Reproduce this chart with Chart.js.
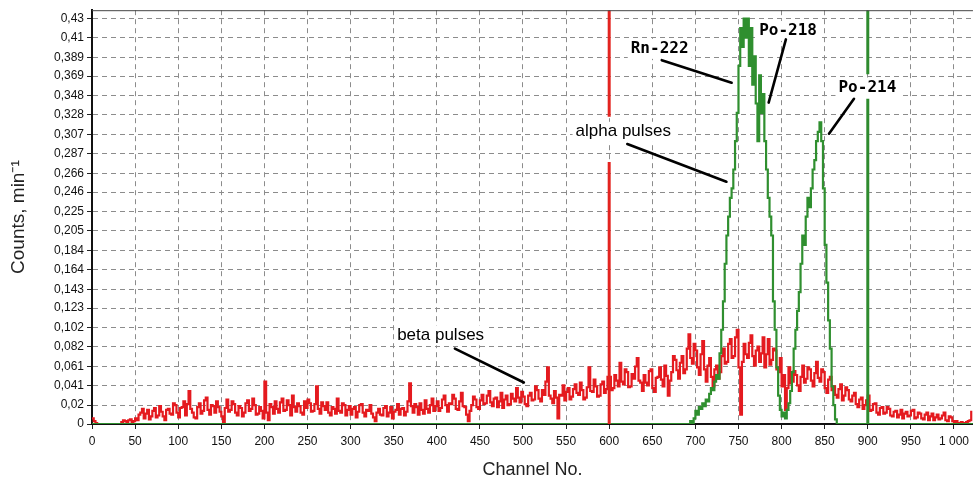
<!DOCTYPE html>
<html>
<head>
<meta charset="utf-8">
<script src="https://cdn.jsdelivr.net/npm/chart.js@4.4.0/dist/chart.umd.min.js"></script>
<style>
  html, body { margin: 0; padding: 0; background: #fff; }
  canvas { display: block; }
</style>
</head>
<body>
<canvas id="spectrumChart" width="974" height="485"></canvas>
<script>
  // Beta spectrum (red), one value every 2 channels starting at channel 0
  const betaStep = 2;
  const betaCounts = [
    0.006, 0.003, 0.001, 0, 0, 0, 0, 0, 0, 0, 0, 0, 0, 0, 0, 0, 0, 0.002, 0.004, 0.003,
    0.002, 0.004, 0.005, 0.002, 0.003, 0.006, 0.004, 0.010, 0.012, 0.016, 0.006, 0.011, 0.015, 0.005, 0.008, 0.014, 0.017, 0.007, 0.009, 0.019,
    0.013, 0.008, 0.004, 0.015, 0.016, 0.011, 0.010, 0.022, 0.020, 0.012, 0.007, 0.017, 0.018, 0.024, 0.009, 0.021, 0.035, 0.016, 0.012, 0.007,
    0.006, 0.018, 0.022, 0.011, 0.014, 0.025, 0.028, 0.015, 0.010, 0.020, 0.019, 0.012, 0.024, 0.018, 0.013, 0.008, 0.002, 0.017, 0.026, 0.013,
    0.015, 0.024, 0.021, 0.012, 0.009, 0.019, 0.017, 0.008, 0.012, 0.022, 0.025, 0.014, 0.016, 0.027, 0.020, 0.010, 0.011, 0.018, 0.014, 0.006,
    0.045, 0.012, 0.004, 0.021, 0.018, 0.011, 0.024, 0.016, 0.012, 0.023, 0.027, 0.014, 0.015, 0.025, 0.020, 0.009, 0.030, 0.018, 0.013, 0.022,
    0.019, 0.012, 0.010, 0.024, 0.017, 0.026, 0.022, 0.013, 0.014, 0.021, 0.040, 0.016, 0.011, 0.023, 0.019, 0.015, 0.023, 0.012, 0.009, 0.018,
    0.016, 0.011, 0.027, 0.014, 0.012, 0.022, 0.020, 0.009, 0.015, 0.019, 0.010, 0.016, 0.018, 0.007, 0.013, 0.020, 0.021, 0.012, 0.008, 0.015,
    0.014, 0.020, 0.011, 0.007, 0.003, 0.012, 0.016, 0.010, 0.009, 0.017, 0.019, 0.008, 0.012, 0.018, 0.006, 0.013, 0.015, 0.021, 0.010, 0.016,
    0.017, 0.009, 0.013, 0.024, 0.043, 0.019, 0.012, 0.021, 0.018, 0.010, 0.022, 0.015, 0.011, 0.025, 0.016, 0.012, 0.020, 0.027, 0.014, 0.019,
    0.024, 0.014, 0.017, 0.026, 0.030, 0.020, 0.013, 0.022, 0.021, 0.031, 0.027, 0.016, 0.015, 0.024, 0.033, 0.019, 0.018, 0.010, 0.003, 0.014,
    0.020, 0.029, 0.026, 0.018, 0.016, 0.025, 0.031, 0.021, 0.022, 0.030, 0.035, 0.023, 0.019, 0.027, 0.028, 0.018, 0.024, 0.033, 0.017, 0.026,
    0.030, 0.020, 0.021, 0.032, 0.027, 0.024, 0.038, 0.028, 0.023, 0.034, 0.029, 0.021, 0.019, 0.030, 0.033, 0.025, 0.026, 0.040, 0.036, 0.027,
    0.024, 0.036, 0.031, 0.045, 0.060, 0.030, 0.027, 0.022, 0.035, 0.028, 0.006, 0.031, 0.030, 0.041, 0.025, 0.034, 0.038, 0.026, 0.029, 0.037,
    0.042, 0.033, 0.031, 0.044, 0.036, 0.026, 0.028, 0.039, 0.060, 0.035, 0.034, 0.047, 0.040, 0.029, 0.030, 0.042, 0.045, 0.033, 0.037, 0.050,
    0.050, 0.036, 0.038, 0.052, 0.046, 0.040, 0.065, 0.045, 0.042, 0.058, 0.055, 0.039, 0.040, 0.053, 0.048, 0.061, 0.070, 0.046, 0.044, 0.035,
    0.052, 0.044, 0.041, 0.056, 0.058, 0.038, 0.034, 0.049, 0.050, 0.060, 0.047, 0.040, 0.062, 0.051, 0.030, 0.046, 0.055, 0.072, 0.068, 0.057,
    0.048, 0.065, 0.072, 0.054, 0.058, 0.080, 0.095, 0.070, 0.064, 0.085, 0.078, 0.060, 0.052, 0.074, 0.088, 0.058, 0.045, 0.062, 0.070, 0.050,
    0.040, 0.058, 0.062, 0.048, 0.055, 0.072, 0.080, 0.064, 0.066, 0.085, 0.090, 0.070, 0.072, 0.092, 0.100, 0.060, 0.010, 0.066, 0.085, 0.074,
    0.070, 0.086, 0.094, 0.072, 0.062, 0.078, 0.082, 0.066, 0.075, 0.092, 0.060, 0.074, 0.090, 0.063, 0.068, 0.080, 0.078, 0.058, 0.055, 0.070,
    0.040, 0.052, 0.015, 0.038, 0.060, 0.043, 0.045, 0.056, 0.052, 0.041, 0.035, 0.050, 0.062, 0.044, 0.048, 0.060, 0.058, 0.046, 0.040, 0.054,
    0.066, 0.049, 0.045, 0.058, 0.055, 0.038, 0.033, 0.047, 0.050, 0.036, 0.040, 0.031, 0.028, 0.037, 0.042, 0.025, 0.030, 0.039, 0.036, 0.026,
    0.024, 0.030, 0.033, 0.021, 0.018, 0.026, 0.028, 0.016, 0.020, 0.025, 0.030, 0.014, 0.015, 0.021, 0.022, 0.012, 0.010, 0.017, 0.018, 0.011,
    0.012, 0.018, 0.016, 0.009, 0.008, 0.013, 0.014, 0.007, 0.010, 0.015, 0.006, 0.011, 0.013, 0.008, 0.009, 0.014, 0.015, 0.006, 0.007, 0.012,
    0.011, 0.006, 0.005, 0.010, 0.012, 0.004, 0.008, 0.011, 0.004, 0.007, 0.010, 0.005, 0.006, 0.009, 0.012, 0.004, 0.003, 0.008, 0.007, 0.003,
    0.002, 0.003, 0.001, 0, 0.002, 0.001, 0, 0.002, 0.003, 0.004, 0.014
  ];

  // Alpha spectrum (green), peaks region only, every 2 channels from channel 690
  const alphaStart = 690;
  const alphaStep = 2;
  const alphaCounts = [
    0, 0, 0.003, 0, 0.006, 0.014, 0.010, 0.018, 0.016, 0.022,
    0.019, 0.026, 0.024, 0.032, 0.038, 0.036, 0.045, 0.052, 0.048, 0.075,
    0.10, 0.13, 0.17, 0.20, 0.22, 0.24, 0.25, 0.27, 0.30, 0.33,
    0.38, 0.42, 0.40, 0.43, 0.41, 0.43, 0.38, 0.42, 0.36, 0.39,
    0.34, 0.30, 0.37, 0.33, 0.35, 0.30, 0.27, 0.24, 0.22, 0.20,
    0.13, 0.10, 0.06, 0.03, 0.015, 0.008, 0.012, 0.006, 0.015, 0.022,
    0.035, 0.055, 0.08, 0.10, 0.12, 0.14, 0.17, 0.20, 0.19, 0.22,
    0.24, 0.23, 0.25, 0.27, 0.28, 0.30, 0.31, 0.32, 0.30, 0.25,
    0.19, 0.15, 0.11, 0.08, 0.04, 0.02, 0.005, 0, 0
  ];

  const xMin = 0;
  const xMax = 1022;
  const yMax = 0.439;
  const xTicks = [0, 50, 100, 150, 200, 250, 300, 350, 400, 450, 500, 550, 600, 650, 700, 750, 800, 850, 900, 950, 1000];
  const yTicks = [0, 0.02, 0.041, 0.061, 0.082, 0.102, 0.123, 0.143, 0.164, 0.184, 0.205,
                  0.225, 0.246, 0.266, 0.287, 0.307, 0.328, 0.348, 0.369, 0.389, 0.41, 0.43];

  // Window markers (channel, and the stretch hidden behind a label)
  const redMarkerChannel = 600;
  const redMarkerY = [0, 0.278, null, 0.326, yMax];
  const greenMarkerChannel = 900;
  const greenMarkerY = [0, 0.345, null, 0.371, yMax];

  // Labels with leader lines, in data coordinates
  const callouts = [
    { text: 'Rn-222', at: [625, 0.398], from: [661, 0.386], to: [742, 0.362], mono: true },
    { text: 'Po-218', at: [774, 0.417], from: [805, 0.408], to: [785, 0.341], mono: true },
    { text: 'Po-214', at: [866, 0.357], from: [884, 0.345], to: [855, 0.308], mono: true },
    { text: 'alpha pulses', at: [561, 0.310], from: [621, 0.297], to: [736, 0.257], mono: false },
    { text: 'beta pulses', at: [354, 0.094], from: [421, 0.080], to: [501, 0.044], mono: false }
  ];

  const betaPoints = betaCounts.map((v, i) => ({ x: i * betaStep, y: v }));
  const alphaPoints = [{ x: xMin, y: 0 }]
    .concat(alphaCounts.map((v, i) => ({ x: alphaStart + i * alphaStep, y: v })))
    .concat([{ x: xMax, y: 0 }]);
  const redMarker = redMarkerY.map((v) => ({ x: redMarkerChannel, y: v }));
  const greenMarker = greenMarkerY.map((v) => ({ x: greenMarkerChannel, y: v }));

  const fmtX = (v) => String(v).replace(/\B(?=(\d{3})+(?!\d))/g, ' ');
  const fmtY = (v) => String(v).replace('.', ',');

  const calloutPlugin = {
    id: 'callouts',
    afterDatasetsDraw(chart) {
      const { ctx, chartArea, scales } = chart;
      const x = scales.x, y = scales.y;
      ctx.save();
      // top frame
      ctx.strokeStyle = '#444';
      ctx.lineWidth = 1;
      ctx.beginPath();
      ctx.moveTo(chartArea.left, chartArea.top + 0.5);
      ctx.lineTo(chartArea.right, chartArea.top + 0.5);
      ctx.stroke();

      callouts.forEach((c) => {
        ctx.font = c.mono ? 'bold 16px "DejaVu Sans Mono", monospace' : '17px "Liberation Sans", Arial, sans-serif';
        const tx = x.getPixelForValue(c.at[0]);
        const ty = y.getPixelForValue(c.at[1]);
        const w = ctx.measureText(c.text).width;
        ctx.fillStyle = '#fff';
        ctx.fillRect(tx - 3, ty - 10, w + 6, 20);
        ctx.fillStyle = '#000';
        ctx.textBaseline = 'middle';
        ctx.textAlign = 'left';
        ctx.fillText(c.text, tx, ty);
        ctx.strokeStyle = '#000';
        ctx.lineWidth = 2.6;
        ctx.lineCap = 'round';
        ctx.beginPath();
        ctx.moveTo(x.getPixelForValue(c.from[0]), y.getPixelForValue(c.from[1]));
        ctx.lineTo(x.getPixelForValue(c.to[0]), y.getPixelForValue(c.to[1]));
        ctx.stroke();
      });
      ctx.restore();
    }
  };

  const ctx = document.getElementById('spectrumChart').getContext('2d');
  const spectrumChart = new Chart(ctx, {
    type: 'line',
    data: {
      datasets: [
        { data: redMarker, borderColor: '#e3231f', borderWidth: 3, pointRadius: 0, spanGaps: false },
        { data: greenMarker, borderColor: '#2e8b2e', borderWidth: 3, pointRadius: 0, spanGaps: false },
        { data: alphaPoints, borderColor: '#2f8f2f', borderWidth: 2.2, pointRadius: 0, stepped: true },
        { data: betaPoints, borderColor: '#e41a1f', borderWidth: 2.2, pointRadius: 0, stepped: true }
      ]
    },
    options: {
      responsive: false,
      animation: false,
      events: [],
      layout: { padding: { top: 8, left: 0, right: 0, bottom: 0 } },
      plugins: { legend: { display: false }, tooltip: { enabled: false } },
      scales: {
        x: {
          type: 'linear',
          min: xMin,
          max: xMax,
          afterBuildTicks: (scale) => { scale.ticks = xTicks.map((v) => ({ value: v })); },
          afterFit: (scale) => { scale.height = 61; },
          ticks: {
            callback: (v) => fmtX(v),
            color: '#111',
            font: { family: '"Liberation Sans", Arial, sans-serif', size: 12 },
            padding: 5,
            maxRotation: 0,
            autoSkip: false
          },
          grid: { color: '#8c8c8c', lineWidth: 1, tickLength: 5, tickColor: '#222' },
          border: { display: true, color: '#111', width: 2, dash: [5, 4] },
          title: {
            display: true,
            text: 'Channel No.',
            color: '#222',
            font: { family: '"Liberation Sans", Arial, sans-serif', size: 18 },
            padding: { top: 0, bottom: 4 }
          }
        },
        y: {
          type: 'linear',
          min: 0,
          max: yMax,
          afterBuildTicks: (scale) => { scale.ticks = yTicks.map((v) => ({ value: v })); },
          afterFit: (scale) => { scale.width = 92; },
          ticks: {
            callback: (v) => fmtY(v),
            color: '#111',
            font: { family: '"Liberation Sans", Arial, sans-serif', size: 12 },
            padding: 3,
            autoSkip: false
          },
          grid: { color: '#8c8c8c', lineWidth: 1, tickLength: 5, tickColor: '#222' },
          border: { display: true, color: '#111', width: 2, dash: [5, 4] },
          title: {
            display: true,
            text: 'Counts, min\u207B\u00B9',
            color: '#222',
            font: { family: '"Liberation Sans", Arial, sans-serif', size: 19 },
            padding: { top: 7, bottom: 0 }
          }
        }
      }
    },
    plugins: [calloutPlugin]
  });
</script>
</body>
</html>
